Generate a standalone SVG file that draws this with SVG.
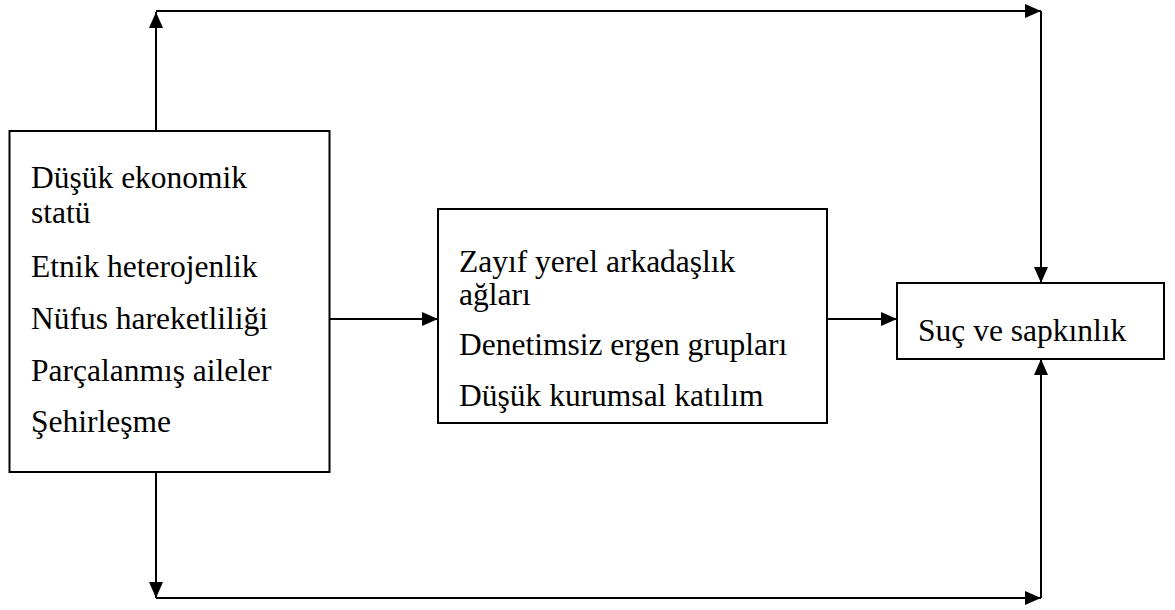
<svg xmlns="http://www.w3.org/2000/svg" width="1175" height="610" viewBox="0 0 1175 610">
<style>
.box{fill:#fff;stroke:#000;stroke-width:2}
.ln{fill:none;stroke:#000;stroke-width:2}
text{font-family:'Liberation Serif','Times New Roman',serif;font-size:31.5px;fill:#000}
</style>
<defs>
<marker id="ah" markerWidth="16" markerHeight="14" refX="16" refY="7" orient="auto" markerUnits="userSpaceOnUse">
<path d="M0,0 L16,7 L0,14 Z" fill="#000"/>
</marker>
</defs>
<g id="connectors">
<path class="ln" d="M156,131 V12" marker-end="url(#ah)"/>
<path class="ln" d="M156,11 H1041" marker-end="url(#ah)"/>
<path class="ln" d="M1041,11 V283" marker-end="url(#ah)"/>
<path class="ln" d="M156,472 V598" marker-end="url(#ah)"/>
<path class="ln" d="M156,598 H1041" marker-end="url(#ah)"/>
<path class="ln" d="M1041,598 V359" marker-end="url(#ah)"/>
<path class="ln" d="M329,319 H438" marker-end="url(#ah)"/>
<path class="ln" d="M827,319 H897" marker-end="url(#ah)"/>
</g>
<g id="node-left">
<rect class="box" x="9.5" y="131" width="320" height="341"/>
<text x="31" y="188">Düşük ekonomik</text>
<text x="31" y="223">statü</text>
<text x="31" y="277">Etnik heterojenlik</text>
<text x="31" y="329">Nüfus hareketliliği</text>
<text x="31" y="381">Parçalanmış aileler</text>
<text x="31" y="432">Şehirleşme</text>
</g>
<g id="node-middle">
<rect class="box" x="438" y="209" width="389" height="214"/>
<text x="459" y="272">Zayıf yerel arkadaşlık</text>
<text x="459" y="305">ağları</text>
<text x="459" y="355">Denetimsiz ergen grupları</text>
<text x="459" y="406">Düşük kurumsal katılım</text>
</g>
<g id="node-right">
<rect class="box" x="897" y="283" width="267" height="76"/>
<text x="918" y="341">Suç ve sapkınlık</text>
</g>
</svg>
